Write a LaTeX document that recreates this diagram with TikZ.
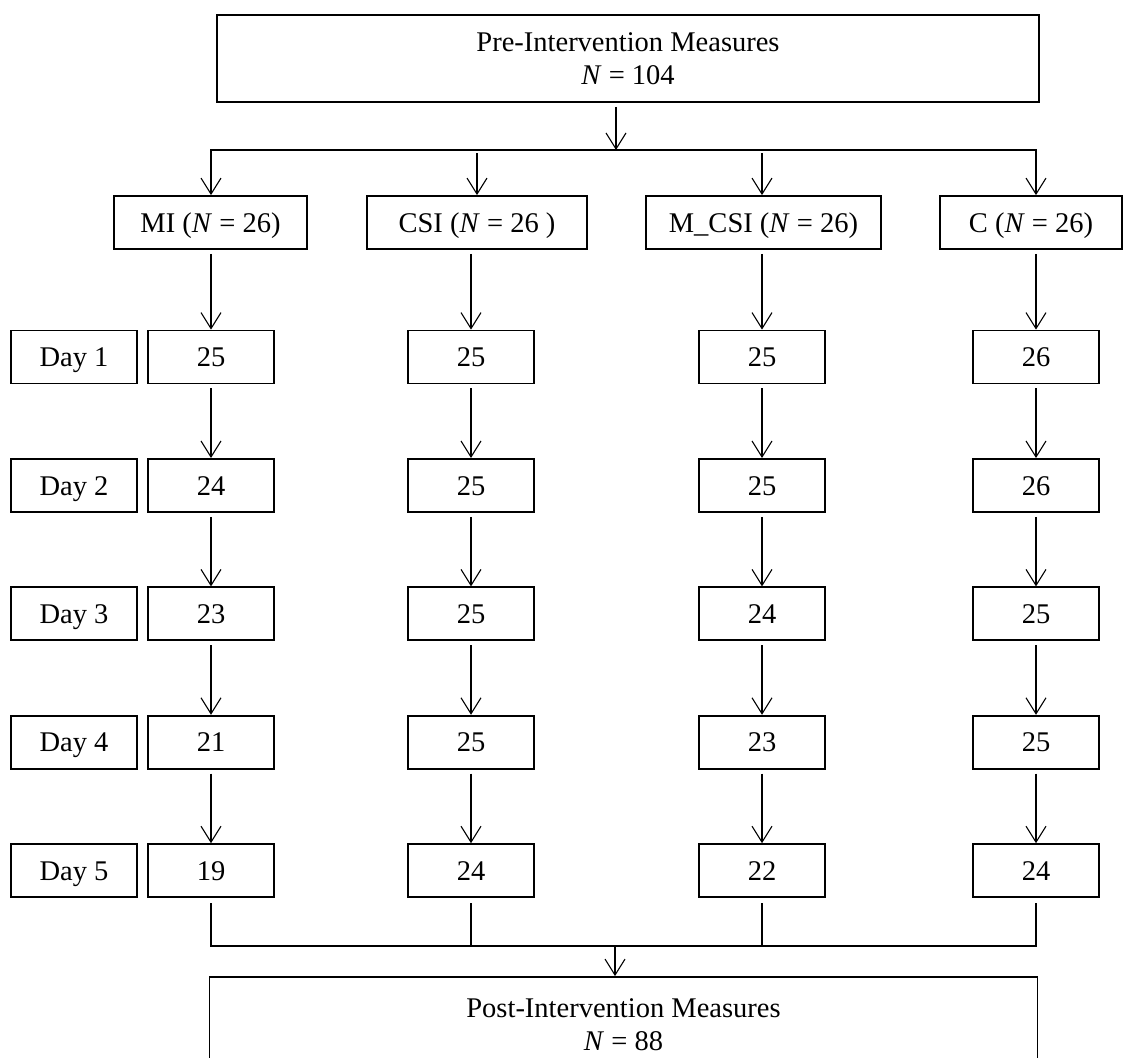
\documentclass[tikz,border=0pt]{standalone}
\usepackage{fontspec}
\setmainfont{Liberation Serif}
\usetikzlibrary{arrows.meta}
\begin{document}
\begin{tikzpicture}[x=1pt,y=-1pt,
  every node/.style={font=\fontsize{28.5}{33}\selectfont},
  box/.style={draw, line width=1.8pt, inner sep=0pt, minimum height=53pt, align=center},
  oneline/.style={box, text height=19.5pt, text depth=0pt},
  cell/.style={oneline, minimum width=126pt},
  conn/.style={line width=1.1pt},
  arr/.style={conn, -{Straight Barb[length=16pt,width=20pt]}},
]
\useasboundingbox (0,0) rectangle (1123,1057);
\clip (0,0) rectangle (1123,1057);

% headline box
\node[box, minimum width=822pt, minimum height=87pt] (pre) at (628,58.5)
  {Pre-Intervention Measures\\\textit{N} = 104};

% group boxes
\node[oneline, minimum width=193pt] (g1) at (210.5,222.5) {MI (\textit{N} = 26)};
\node[oneline, minimum width=220pt] (g2) at (477,222.5) {CSI (\textit{N} = 26 )};
\node[oneline, minimum width=235pt] (g3) at (763.5,222.5) {M\_CSI (\textit{N} = 26)};
\node[oneline, minimum width=182pt] (g4) at (1031,222.5) {C (\textit{N} = 26)};

% day labels
\foreach \r in {1,...,5}
  \node[cell] (d\r) at (74,{357+128.4*(\r-1)}) {Day \r};

% daily counts per group
\foreach \c/\x/\vals in {1/211/{25,24,23,21,19},2/471/{25,25,25,25,24},
                         3/762/{25,25,24,23,22},4/1036/{26,26,25,25,24}}{
  \foreach \v [count=\r] in \vals
    \node[cell] (b\c\r) at (\x,{357+128.4*(\r-1)}) {\v};
}

% closing box
\node[box, minimum width=828pt, minimum height=96pt] (post) at (623.5,1025)
  {Post-Intervention Measures\\\textit{N} = 88};

% split into the four groups
\coordinate (split) at (616,150);
\draw[arr, shorten <=4pt] (pre.south -| split) -- (split);
\draw[arr] (split) -| (g1.north -| b11);
\draw[arr] (split) -| (g4.north -| b41);
\draw[arr, shorten <=3pt] (split -| g2) -- (g2.north);
\draw[arr, shorten <=3pt] (split -| b31) -- (g3.north -| b31);

% daily chains
\foreach \c in {1,...,4}{
  \draw[arr, shorten <=4pt] (g\c.south -| b\c1.north) -- (b\c1.north);
  \foreach \r [evaluate=\r as \n using int(\r+1)] in {1,...,4}
    \draw[arr, shorten <=4pt] (b\c\r.south) -- (b\c\n.north);
}

% merge into the closing box
\coordinate (merge) at (615,946);
\draw[conn, shorten <=5pt, shorten >=5pt] (b15.south) -- (b15.south |- merge)
  -- (b45.south |- merge) -- (b45.south);
\draw[conn, shorten <=5pt] (b25.south) -- (b25.south |- merge);
\draw[conn, shorten <=5pt] (b35.south) -- (b35.south |- merge);
\draw[arr] (merge) -- (merge |- post.north);
\end{tikzpicture}
\end{document}
